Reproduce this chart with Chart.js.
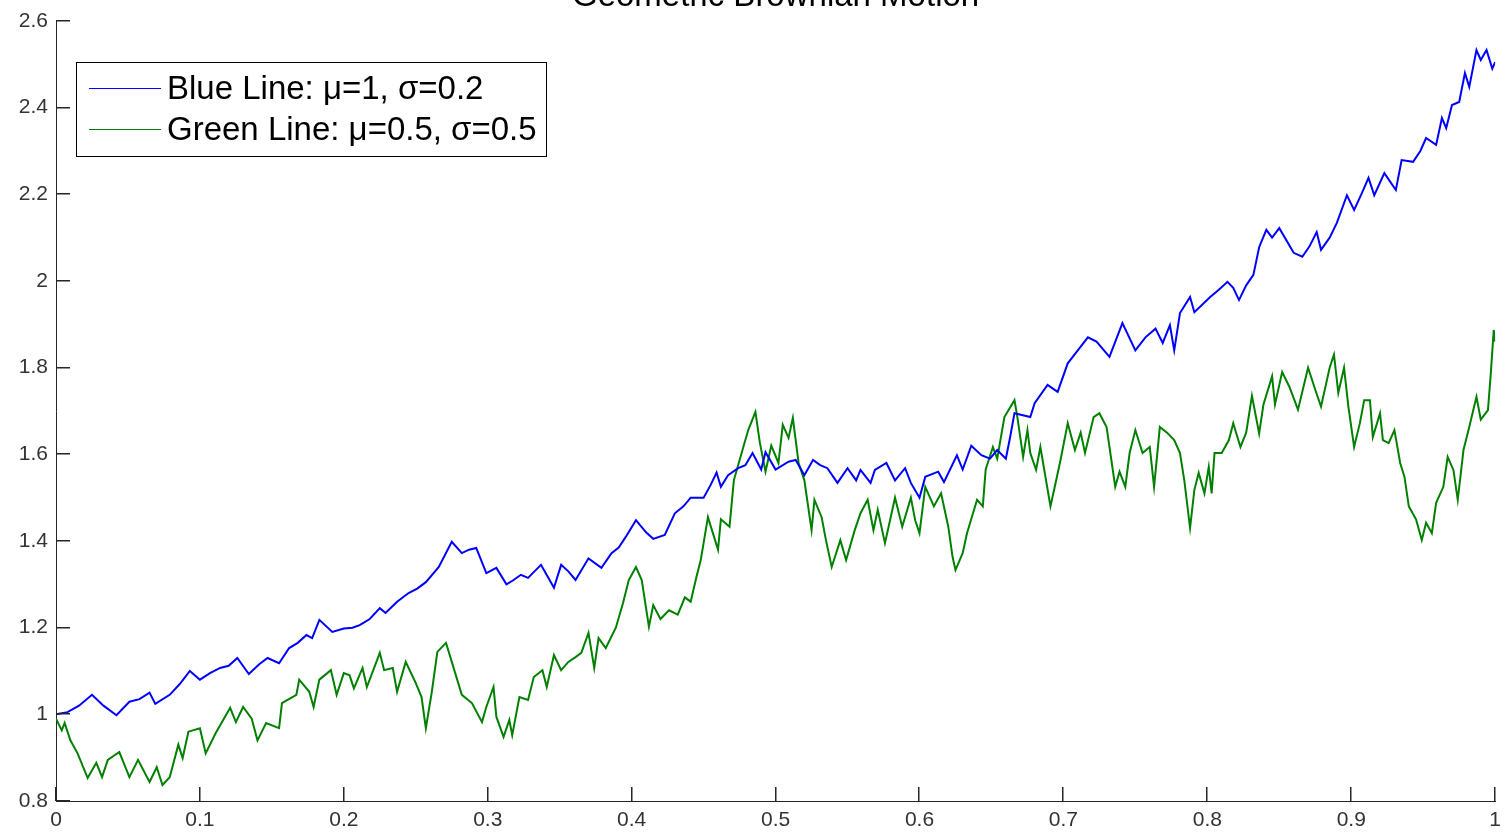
<!DOCTYPE html>
<html>
<head>
<meta charset="utf-8">
<script src="https://cdn.jsdelivr.net/npm/chart.js@4/dist/chart.umd.min.js"></script>
<style>
  html, body { margin: 0; padding: 0; background: #fff; }
  canvas { display: block; }
</style>
</head>
<body>
<canvas id="gbm" width="1508" height="835"></canvas>
<script>
// values
const blueT = [0, 0.008, 0.016, 0.025, 0.033, 0.042, 0.051, 0.058, 0.065, 0.069, 0.079, 0.086, 0.093, 0.1, 0.107, 0.114, 0.12, 0.126, 0.134, 0.141,
  0.147, 0.155, 0.162, 0.168, 0.174, 0.178, 0.183, 0.192, 0.2, 0.206, 0.211, 0.218, 0.225, 0.229, 0.237, 0.245, 0.251, 0.257, 0.266, 0.275,
  0.282, 0.287, 0.292, 0.299, 0.306, 0.313, 0.318, 0.323, 0.328, 0.337, 0.346, 0.351, 0.356, 0.361, 0.37, 0.379, 0.386, 0.391, 0.396, 0.403,
  0.41, 0.415, 0.423, 0.43, 0.436, 0.441, 0.45, 0.455, 0.459, 0.462, 0.467, 0.474, 0.479, 0.484, 0.49, 0.493, 0.5, 0.509, 0.514, 0.52,
  0.526, 0.531, 0.536, 0.543, 0.55, 0.556, 0.559, 0.566, 0.569, 0.577, 0.583, 0.59, 0.594, 0.6, 0.604, 0.613, 0.617, 0.626, 0.63, 0.636,
  0.643, 0.649, 0.654, 0.66, 0.663, 0.666, 0.677, 0.68, 0.689, 0.696, 0.703, 0.71, 0.717, 0.723, 0.732, 0.741, 0.75, 0.757, 0.764, 0.769,
  0.774, 0.777, 0.781, 0.788, 0.791, 0.802, 0.808, 0.814, 0.818, 0.822, 0.827, 0.832, 0.836, 0.841, 0.845, 0.85, 0.86, 0.866, 0.871, 0.876,
  0.879, 0.885, 0.89, 0.897, 0.902, 0.907, 0.912, 0.916, 0.923, 0.931, 0.935, 0.943, 0.948, 0.952, 0.959, 0.963, 0.966, 0.97, 0.975, 0.979,
  0.982, 0.987, 0.99, 0.994, 0.998, 1.0];
const blueS = [1.0, 1.005, 1.02, 1.045, 1.02, 0.998, 1.029, 1.035, 1.05, 1.024, 1.045, 1.07, 1.1, 1.08, 1.095, 1.107, 1.112, 1.13, 1.093, 1.115,
  1.13, 1.118, 1.153, 1.165, 1.183, 1.176, 1.218, 1.19, 1.198, 1.2, 1.206, 1.22, 1.245, 1.234, 1.26, 1.28, 1.29, 1.305, 1.34, 1.398,
  1.372, 1.38, 1.384, 1.326, 1.338, 1.3, 1.31, 1.322, 1.315, 1.345, 1.292, 1.345, 1.33, 1.31, 1.36, 1.338, 1.372, 1.385, 1.41, 1.448,
  1.42, 1.405, 1.414, 1.464, 1.48, 1.5, 1.5, 1.53, 1.558, 1.525, 1.552, 1.568, 1.575, 1.603, 1.565, 1.605, 1.565, 1.583, 1.587, 1.552,
  1.587, 1.575, 1.568, 1.534, 1.568, 1.54, 1.564, 1.534, 1.564, 1.58, 1.54, 1.568, 1.534, 1.5, 1.548, 1.56, 1.536, 1.598, 1.565, 1.62,
  1.598, 1.59, 1.61, 1.59, 1.64, 1.695, 1.686, 1.718, 1.76, 1.744, 1.81, 1.84, 1.87, 1.86, 1.825, 1.903, 1.84, 1.87, 1.89, 1.857,
  1.898, 1.84, 1.926, 1.963, 1.928, 1.963, 1.98, 1.998, 1.984, 1.956, 1.99, 2.014, 2.078, 2.118, 2.1, 2.122, 2.065, 2.056, 2.08, 2.113,
  2.072, 2.1, 2.134, 2.198, 2.164, 2.2, 2.238, 2.198, 2.249, 2.21, 2.279, 2.275, 2.3, 2.33, 2.314, 2.376, 2.353, 2.406, 2.413, 2.48,
  2.448, 2.533, 2.51, 2.533, 2.49, 2.505];

const greenT = [0, 0.004, 0.006, 0.01, 0.015, 0.022, 0.028, 0.032, 0.036, 0.044, 0.051, 0.057, 0.065, 0.07, 0.074, 0.079, 0.085, 0.088, 0.092, 0.1,
  0.104, 0.111, 0.121, 0.125, 0.13, 0.136, 0.14, 0.146, 0.155, 0.157, 0.167, 0.169, 0.176, 0.179, 0.183, 0.191, 0.195, 0.2, 0.204, 0.207,
  0.213, 0.216, 0.225, 0.228, 0.234, 0.237, 0.243, 0.25, 0.254, 0.257, 0.261, 0.265, 0.271, 0.275, 0.282, 0.289, 0.296, 0.299, 0.304, 0.306,
  0.311, 0.315, 0.317, 0.322, 0.328, 0.332, 0.338, 0.341, 0.346, 0.351, 0.356, 0.361, 0.365, 0.37, 0.374, 0.377, 0.382, 0.389, 0.394, 0.398,
  0.403, 0.407, 0.412, 0.415, 0.42, 0.426, 0.432, 0.437, 0.441, 0.445, 0.448, 0.453, 0.46, 0.462, 0.468, 0.471, 0.477, 0.481, 0.486, 0.489,
  0.493, 0.497, 0.502, 0.505, 0.509, 0.512, 0.516, 0.52, 0.525, 0.527, 0.532, 0.535, 0.539, 0.545, 0.549, 0.555, 0.559, 0.564, 0.568, 0.571,
  0.576, 0.583, 0.588, 0.594, 0.597, 0.6, 0.604, 0.61, 0.615, 0.62, 0.623, 0.625, 0.63, 0.633, 0.64, 0.644, 0.646, 0.651, 0.654, 0.659,
  0.666, 0.668, 0.672, 0.675, 0.677, 0.681, 0.684, 0.691, 0.694, 0.698, 0.703, 0.708, 0.712, 0.715, 0.721, 0.725, 0.73, 0.734, 0.736, 0.739,
  0.743, 0.746, 0.75, 0.755, 0.76, 0.763, 0.767, 0.772, 0.777, 0.781, 0.784, 0.788, 0.791, 0.794, 0.798, 0.801, 0.803, 0.805, 0.81, 0.815,
  0.818, 0.823, 0.827, 0.831, 0.836, 0.839, 0.845, 0.847, 0.852, 0.857, 0.863, 0.87, 0.875, 0.879, 0.885, 0.888, 0.891, 0.895, 0.898, 0.902,
  0.906, 0.909, 0.913, 0.915, 0.92, 0.922, 0.926, 0.93, 0.934, 0.937, 0.94, 0.945, 0.949, 0.952, 0.956, 0.959, 0.964, 0.967, 0.971, 0.974,
  0.978, 0.982, 0.987, 0.99, 0.995, 0.997, 0.999, 1.0];
const greenS = [0.99, 0.963, 0.98, 0.94, 0.91, 0.853, 0.888, 0.855, 0.895, 0.913, 0.855, 0.895, 0.844, 0.878, 0.837, 0.855, 0.93, 0.899, 0.96, 0.968,
  0.91, 0.957, 1.015, 0.982, 1.017, 0.99, 0.94, 0.98, 0.968, 1.026, 1.045, 1.08, 1.052, 1.017, 1.08, 1.102, 1.045, 1.095, 1.09, 1.06,
  1.107, 1.063, 1.142, 1.102, 1.107, 1.052, 1.121, 1.072, 1.04, 0.968, 1.049, 1.144, 1.165, 1.121, 1.045, 1.026, 0.982, 1.017, 1.063, 0.994,
  0.948, 0.987, 0.952, 1.04, 1.033, 1.086, 1.102, 1.063, 1.137, 1.102, 1.121, 1.132, 1.142, 1.188, 1.107, 1.176, 1.153, 1.2, 1.257, 1.31,
  1.34, 1.31, 1.202, 1.252, 1.22, 1.24, 1.23, 1.27, 1.26, 1.317, 1.356, 1.455, 1.38, 1.45, 1.433, 1.54, 1.61, 1.656, 1.698, 1.628,
  1.56, 1.62, 1.58, 1.668, 1.638, 1.684, 1.58, 1.54, 1.425, 1.495, 1.455, 1.402, 1.34, 1.402, 1.356, 1.425, 1.464, 1.495, 1.425, 1.472,
  1.395, 1.5, 1.433, 1.5, 1.448, 1.418, 1.525, 1.48, 1.51, 1.433, 1.363, 1.333, 1.372, 1.418, 1.495, 1.48, 1.565, 1.617, 1.59, 1.686,
  1.725, 1.686, 1.594, 1.656, 1.603, 1.564, 1.617, 1.48, 1.525, 1.587, 1.672, 1.61, 1.65, 1.603, 1.686, 1.695, 1.663, 1.571, 1.525, 1.56,
  1.525, 1.603, 1.656, 1.603, 1.617, 1.525, 1.663, 1.65, 1.633, 1.603, 1.54, 1.43, 1.518, 1.557, 1.51, 1.571, 1.51, 1.603, 1.603, 1.633,
  1.672, 1.617, 1.65, 1.735, 1.648, 1.715, 1.78, 1.715, 1.79, 1.756, 1.703, 1.8, 1.749, 1.71, 1.8, 1.83, 1.742, 1.8, 1.71, 1.617,
  1.672, 1.725, 1.725, 1.64, 1.695, 1.633, 1.626, 1.656, 1.58, 1.548, 1.48, 1.45, 1.402, 1.442, 1.418, 1.488, 1.525, 1.594, 1.564, 1.495,
  1.61, 1.663, 1.733, 1.68, 1.702, 1.788, 1.887, 1.86];

const seriesLabels = ['Blue Line: \u03bc=1, \u03c3=0.2', 'Green Line: \u03bc=0.5, \u03c3=0.5'];
const titleText = 'Geometric Brownian Motion';

const AXIS = '#262626';
const FONT = '"Liberation Sans", Arial, Helvetica, sans-serif';
const TICK_LEN = 14;

const toPoints = (ts, vs) => ts.map((t, i) => ({ x: t, y: vs[i] }));
const tickText = v => String(Number(v.toFixed(1)));

// inward tick marks, clipped title and boxed legend
const decorations = {
  id: 'decorations',
  afterDraw(chart) {
    const { ctx, chartArea: a } = chart;
    const xs = chart.scales.x, ys = chart.scales.y;
    ctx.save();

    ctx.fillStyle = AXIS;
    for (const t of xs.ticks) {
      const px = Math.round(xs.getPixelForValue(t.value));
      ctx.fillRect(px - 1, Math.round(a.bottom) - TICK_LEN, 1.5, TICK_LEN);
    }
    for (const t of ys.ticks) {
      const py = Math.round(ys.getPixelForValue(t.value));
      ctx.fillRect(Math.round(a.left), py - 1, TICK_LEN, 1.5);
    }

    ctx.font = '33px ' + FONT;
    ctx.fillStyle = '#000';
    ctx.textAlign = 'center';
    ctx.textBaseline = 'alphabetic';
    ctx.fillText(titleText, (a.left + a.right) / 2, 6);

    const bx = 76.5, by = 62.5, bw = 470, bh = 94;
    ctx.fillStyle = '#fff';
    ctx.fillRect(bx, by, bw, bh);
    ctx.strokeStyle = '#000';
    ctx.lineWidth = 1;
    ctx.strokeRect(bx, by, bw, bh);

    ctx.font = '33px ' + FONT;
    ctx.textAlign = 'left';
    ctx.textBaseline = 'middle';
    chart.data.datasets.forEach((ds, i) => {
      const ly = 88.5 + i * 41;
      ctx.strokeStyle = ds.borderColor;
      ctx.beginPath();
      ctx.moveTo(89, ly);
      ctx.lineTo(161, ly);
      ctx.stroke();
      ctx.fillStyle = '#000';
      ctx.fillText(ds.label, 167, ly + 1);
    });
    ctx.restore();
  }
};

new Chart(document.getElementById('gbm'), {
  type: 'line',
  data: {
    datasets: [
      {
        label: seriesLabels[0],
        data: toPoints(blueT, blueS),
        borderColor: '#0000ff',
        borderWidth: 2,
      },
      {
        label: seriesLabels[1],
        data: toPoints(greenT, greenS),
        borderColor: '#008000',
        borderWidth: 2,
      },
    ],
  },
  options: {
    responsive: false,
    animation: false,
    layout: { padding: { top: 21, right: 9, left: 0, bottom: 0 } },
    elements: { point: { radius: 0 }, line: { tension: 0 } },
    plugins: {
      legend: { display: false },
      tooltip: { enabled: false },
      title: { display: false },
    },
    scales: {
      x: {
        type: 'linear',
        min: 0,
        max: 1,
        afterFit(scale) { scale.height = 34; },
        grid: { display: false, drawTicks: false },
        border: { display: true, color: AXIS, width: 1 },
        ticks: { stepSize: 0.1, padding: 7, color: '#333', font: { family: FONT, size: 21 }, maxRotation: 0, callback: tickText },
      },
      y: {
        min: 0.8,
        max: 2.6,
        afterFit(scale) { scale.width = 56; },
        grid: { display: false, drawTicks: false },
        border: { display: true, color: AXIS, width: 1 },
        ticks: { stepSize: 0.2, padding: 8, color: '#333', font: { family: FONT, size: 21 }, callback: tickText },
      },
    },
  },
  plugins: [decorations],
});
</script>
</body>
</html>
